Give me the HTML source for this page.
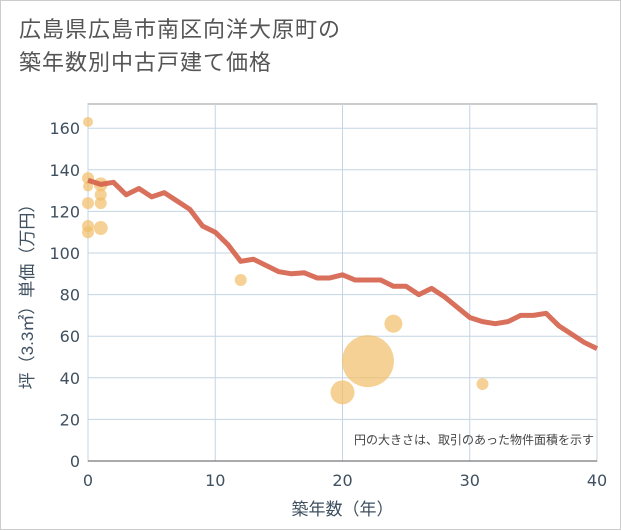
<!DOCTYPE html>
<html><head><meta charset="utf-8">
<style>
body{margin:0;background:#fff;}
#wrap{position:relative;width:619px;height:528px;border:1px solid #ccc;background:#fff;font-family:"Liberation Sans","Noto Sans CJK JP",sans-serif;}
#title{position:absolute;left:18px;top:12px;font-size:22px;line-height:33px;color:#555;letter-spacing:1px;}
svg text{font-family:"Liberation Sans","Noto Sans CJK JP",sans-serif;}
svg text.tick{font-family:"DejaVu Sans",sans-serif;}
</style></head><body>
<div id="wrap">
<div id="title">広島県広島市南区向洋大原町の<br>築年数別中古戸建て価格</div>
<svg id="chart" width="621" height="530" style="position:absolute;left:0;top:0"></svg>
</div>
<script>
const years=[0,1,2,3,4,5,6,7,8,9,10,11,12,13,14,15,16,17,18,19,20,21,22,23,24,25,26,27,28,29,30,31,32,33,34,35,36,37,38,39,40];
const avgPrice=[135,133,134,128,131,127,129,125,121,113,110,104,96,97,94,91,90,90.5,88,88,89.5,87,87,87,84,84,80,83,79,74,69,67,66,67,70,70,71,65,61,57,54];
const ptYears=[0,0,0,0,0,0,1,1,1,1,12,20,22,24,31];
const ptPrice=[163,136,132,124,113,110,133,128,124,112,87,33,48,66,37];
const ptSize=[5,6,5,6,6,6,7,6,6,7,6,12,26,9,6];
const xTicks=[0,10,20,30,40];
const yTicks=[0,20,40,60,80,100,120,140,160];
const NS="http://www.w3.org/2000/svg";
const svg=document.getElementById('chart');
const X0=87,X1=596,Y0=460,YT=103;
const xs=v=>X0+(X1-X0)*v/40;
const ys=v=>Y0-(Y0-127.2)*v/160;
function mk(t,a){const e=document.createElementNS(NS,t);for(const k in a)e.setAttribute(k,a[k]);svg.appendChild(e);return e;}
const frame=mk('rect',{x:X0,y:YT,width:X1-X0,height:Y0-YT,fill:'none',stroke:'#999','stroke-width':1});


yTicks.forEach(v=>{
 const l=mk('line',{x1:X0,x2:X1,y1:ys(v),y2:ys(v),stroke:'#c5d5e2','stroke-width':1});
 
 
 const t=mk('text',{x:X0-8,y:ys(v)+6,'text-anchor':'end','font-size':16,fill:'#3f5060','class':'tick'});
 t.textContent=v;
 
 
});
xTicks.forEach(v=>{
 const l=mk('line',{x1:xs(v),x2:xs(v),y1:YT,y2:Y0,stroke:'#c5d5e2','stroke-width':1});
 
 
 const t=mk('text',{x:xs(v),y:Y0+25,'text-anchor':'middle','font-size':16,fill:'#3f5060','class':'tick'});
 t.textContent=v;
 
 
});
const ax=mk('line',{x1:X0,x2:X1,y1:Y0,y2:Y0,stroke:'#555','stroke-width':1});


ptYears.forEach((y,i)=>{
 const c=mk('circle',{cx:xs(y),cy:ys(ptPrice[i]),r:ptSize[i],fill:'#f2bd68','fill-opacity':0.7});
 
 
});
const p=mk('polyline',{points:years.map((y,i)=>xs(y)+','+ys(avgPrice[i])).join(' '),fill:'none',stroke:'#d4604a','stroke-opacity':0.9,'stroke-width':5,'stroke-linejoin':'round'});


const note=mk('text',{x:593,y:443,'text-anchor':'end','font-size':12,fill:'#444'});
note.textContent='円の大きさは、取引のあった物件面積を示す';


const xt=mk('text',{x:(X0+X1)/2,y:514,'text-anchor':'middle','font-size':17,fill:'#3f5060'});
xt.textContent='築年数（年）';


const yt=mk('text',{x:0,y:0,'text-anchor':'middle','font-size':17,fill:'#3f5060',transform:'translate(32,'+((YT+Y0)/2+10)+') rotate(-90)'});
yt.textContent='坪（3.3㎡）単価（万円）';


</script>
</body></html>
